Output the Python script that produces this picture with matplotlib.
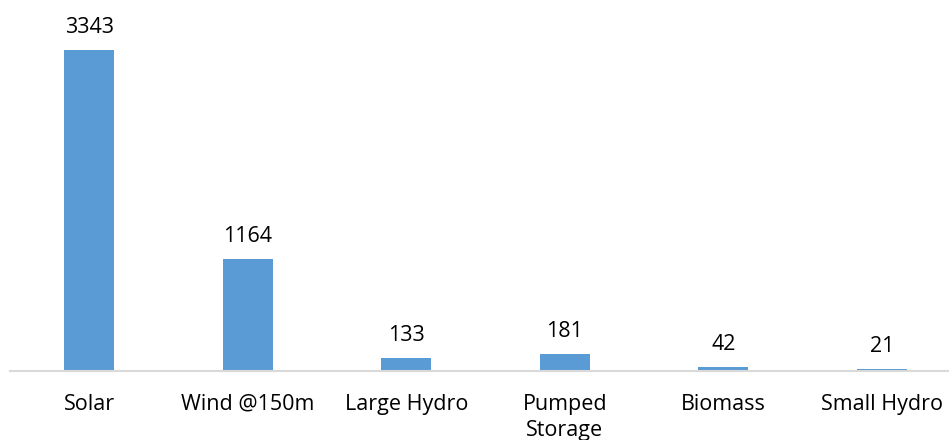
import matplotlib
matplotlib.use("Agg")
import matplotlib.pyplot as plt

categories = ["Solar", "Wind @150m", "Large Hydro", "Pumped\nStorage", "Biomass", "Small Hydro"]
values = [3343, 1164, 133, 181, 42, 21]

W, H = 949, 440
fig = plt.figure(figsize=(W / 100, H / 100), dpi=100)
left = 10 / W
bottom = (H - 371) / H
ax = fig.add_axes([left, bottom, 1 - left, 1 - bottom])

x = list(range(len(categories)))
bars = ax.bar(x, values, width=0.315, color="#5B9BD5", zorder=2)

ax.set_xlim(-0.5, 5.5 - 12 / 158.5)
ax.set_ylim(0, 3864)

for s in ["top", "right", "left"]:
    ax.spines[s].set_visible(False)
ax.spines["bottom"].set_color("#D9D9D9")
ax.spines["bottom"].set_linewidth(1.5)
ax.set_yticks([])
ax.set_xticks(x)
ax.set_xticklabels(categories, fontsize=15.5, family="Open Sans", color="#000000",
                   linespacing=1.3)
ax.tick_params(axis="x", length=0, pad=16.5)

for xi, v in zip(x, values):
    ax.annotate(str(v), (xi, v), xytext=(0, 8.5), textcoords="offset points",
                ha="center", va="bottom", fontsize=15.5, family="Open Sans", color="#000000")

fig.savefig("out.png", dpi=100)
